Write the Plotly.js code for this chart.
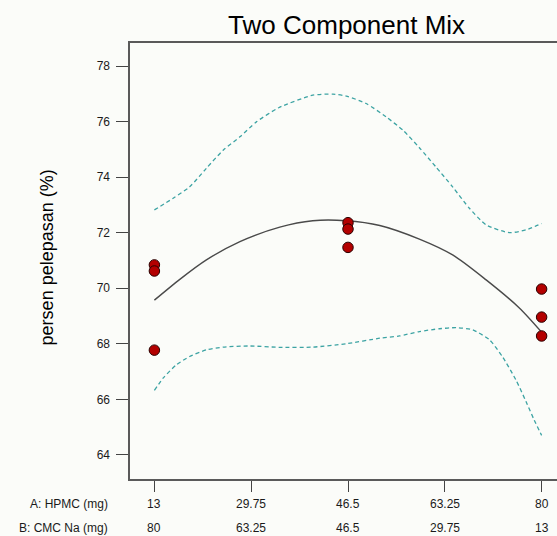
<!DOCTYPE html>
<html>
<head>
<meta charset="utf-8">
<script src="https://cdn.plot.ly/plotly-3.0.1.min.js"></script>
<style>
html,body{margin:0;padding:0;overflow:hidden;background:#fbfcf9;}
#chart{width:580px;height:536px;}
</style>
</head>
<body>
<div id="chart"></div>
<script>
// Data
const tickVals = [13, 29.75, 46.5, 63.25, 80];
const aLabels = ['13', '29.75', '46.5', '63.25', '80'];
const bLabels = ['80', '63.25', '46.5', '29.75', '13'];
const rowTitles = ['A: HPMC (mg)', 'B: CMC Na (mg)'];

const obsX = [13, 13, 13, 46.5, 46.5, 46.5, 80, 80, 80];
const obsY = [70.84, 70.62, 67.77, 72.36, 72.13, 71.47, 69.97, 68.96, 68.28];

const fitX = [13, 17.4, 22.0, 27.8, 34.7, 40.4, 46.2, 52.0, 58.85, 64.6, 70.4, 76.1, 80];
const fitY = [69.57, 70.32, 71.02, 71.68, 72.2, 72.43, 72.43, 72.26, 71.77, 71.2, 70.3, 69.3, 68.42];

const upX = [13, 16.25, 19.1, 22.0, 24.9, 27.8, 30.65, 34.5, 40.4, 43.9, 46.2, 49.65, 53.1, 56.0, 58.85, 61.7, 64.6, 67.5, 70.4, 74.4, 77.3, 80];
const upY = [72.82, 73.24, 73.65, 74.32, 74.97, 75.45, 75.99, 76.5, 76.95, 76.99, 76.92, 76.65, 76.17, 75.69, 75.06, 74.37, 73.65, 72.88, 72.28, 72.0, 72.1, 72.33];

const loX = [13, 14.5, 16.8, 19.1, 22.0, 24.9, 29.5, 34.7, 40.4, 46.2, 52.0, 55.4, 58.85, 62.3, 65.2, 68.1, 71.0, 73.2, 75.55, 77.3, 78.7, 80];
const loY = [66.32, 66.76, 67.24, 67.54, 67.78, 67.88, 67.92, 67.87, 67.88, 68.0, 68.2, 68.28, 68.44, 68.54, 68.58, 68.5, 68.14, 67.54, 66.70, 65.92, 65.26, 64.7];

const yTicks = [64, 66, 68, 70, 72, 74, 76, 78];

const bandLine = {color: '#3ca3a3', width: 1.3, dash: '4px,3px', shape: 'spline', smoothing: 0.6};
const tf = {family: 'Arial, Liberation Sans', size: 12, color: '#1a1a1a'};

const traces = [
  {x: upX, y: upY, mode: 'lines', line: bandLine, hoverinfo: 'skip'},
  {x: loX, y: loY, mode: 'lines', line: bandLine, hoverinfo: 'skip'},
  {x: fitX, y: fitY, mode: 'lines', line: {color: '#4a4a4a', width: 1.4, shape: 'spline', smoothing: 0.8}},
  {x: obsX, y: obsY, mode: 'markers', marker: {size: 10.5, color: '#b30000', line: {color: '#2a0000', width: 1}}}
];

const annotations = [];
const W = 436;
tickVals.forEach((v, i) => {
  annotations.push({x: v, xref: 'x', y: (479.3 - 504) / W, yref: 'paper', text: aLabels[i], showarrow: false, xanchor: 'center', yanchor: 'middle', font: tf});
  annotations.push({x: v, xref: 'x', y: (479.3 - 528.3) / W, yref: 'paper', text: bLabels[i], showarrow: false, xanchor: 'center', yanchor: 'middle', font: tf});
});
annotations.push({x: -20 / W, xref: 'paper', y: (479.3 - 504) / W, yref: 'paper', text: rowTitles[0], showarrow: false, xanchor: 'right', yanchor: 'middle', font: tf});
annotations.push({x: -20 / W, xref: 'paper', y: (479.3 - 528.3) / W, yref: 'paper', text: rowTitles[1], showarrow: false, xanchor: 'right', yanchor: 'middle', font: tf});
annotations.push({x: (46.7 - 130) / W, xref: 'paper', y: (479.3 - 258) / W, yref: 'paper', text: 'persen pelepasan (%)', textangle: -90, showarrow: false, xanchor: 'center', yanchor: 'middle', font: {family: 'Arial, Liberation Sans', size: 18, color: '#000'}});

const layout = {
  width: 580, height: 536,
  margin: {l: 130, r: 14, t: 43, b: 57, pad: 0},
  paper_bgcolor: '#fbfcf9', plot_bgcolor: '#fbfcf9',
  showlegend: false,
  title: {text: 'Two Component Mix', font: {family: 'Arial, Liberation Sans', size: 26, color: '#000'}, xref: 'paper', x: (346.6 - 130) / W, xanchor: 'center', yref: 'container', y: 1 - 25 / 536, yanchor: 'middle'},
  xaxis: {range: [8.78, 84.22], tickvals: tickVals, showticklabels: false, ticks: 'outside', ticklen: 11, tickcolor: '#444', tickwidth: 1,
    showline: true, linecolor: '#5a5a5a', linewidth: 1.6, mirror: true, showgrid: false, zeroline: false},
  yaxis: {range: [63.13, 78.83], tickvals: yTicks, ticks: 'outside', ticklen: 12, tickcolor: '#444', tickwidth: 1,
    tickfont: tf, ticklabelstandoff: 4,
    showline: true, linecolor: '#5a5a5a', linewidth: 1.6, mirror: true, showgrid: false, zeroline: false},
  annotations: annotations
};

Plotly.newPlot('chart', traces, layout, {displayModeBar: false, staticPlot: true});
</script>
</body>
</html>
